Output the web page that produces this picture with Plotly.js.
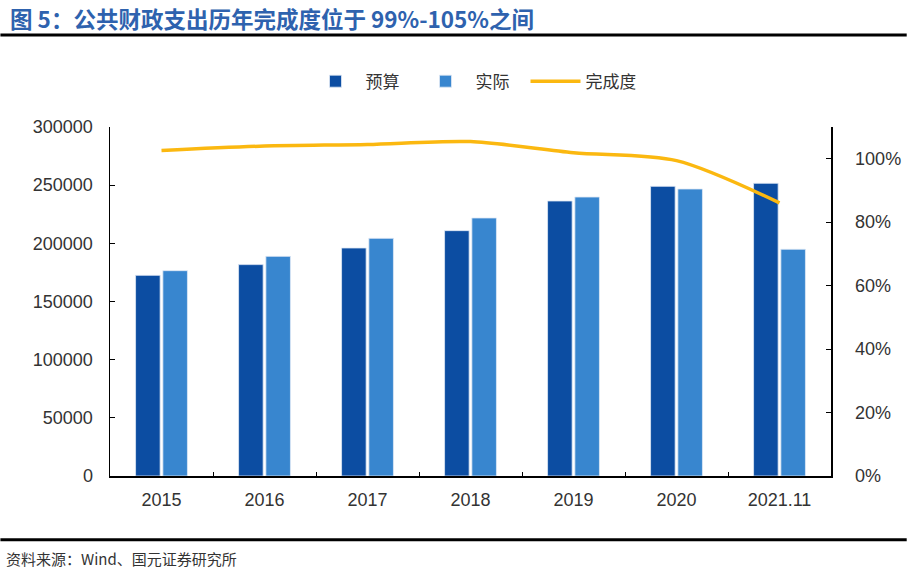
<!DOCTYPE html>
<html>
<head>
<meta charset="utf-8">
<script src="https://cdn.plot.ly/plotly-3.0.1.min.js"></script>
<style>
html,body{margin:0;padding:0;background:#fff;}
#chart{width:909px;height:573px;}
</style>
</head>
<body>
<div id="chart"></div>
<script>
const categories = ['2015', '2016', '2017', '2018', '2019', '2020', '2021.11'];
const budget = [172500, 181700, 196000, 210900, 236400, 249000, 251600];
const actual = [176500, 188800, 204300, 221800, 239800, 246700, 194900];
const completion = [1.026, 1.040, 1.045, 1.054, 1.019, 0.994, 0.861];
const leftTicks = [0, 50000, 100000, 150000, 200000, 250000, 300000];
const rightTicks = [0, 0.2, 0.4, 0.6, 0.8, 1.0];
const rightTickText = ['0%', '20%', '40%', '60%', '80%', '100%'];

const CJK = '"Noto Sans CJK SC", "Liberation Sans", sans-serif';
const NUM = '"Liberation Sans", Arial, sans-serif';

const traces = [
  {type: 'bar', name: '预算', x: categories, y: budget,
   marker: {color: '#0C4DA2', line: {color: '#dfe8f5', width: 0.8}}},
  {type: 'bar', name: '实际', x: categories, y: actual,
   marker: {color: '#3886CF', line: {color: '#dfe8f5', width: 0.8}}},
  {type: 'scatter', mode: 'lines', name: '完成度', x: categories, y: completion,
   yaxis: 'y2', line: {color: '#FBB810', width: 3.5, shape: 'spline', smoothing: 0.8}}
];

const layout = {
  width: 909, height: 573,
  margin: {l: 110, r: 78, t: 127, b: 97},
  paper_bgcolor: '#fff', plot_bgcolor: '#fff',
  barmode: 'group', bargap: 0.47, bargroupgap: 0.1,
  showlegend: true,
  legend: {orientation: 'h', x: 0.5, xanchor: 'center', y: 1.13, yanchor: 'middle',
           font: {family: CJK, size: 17, color: '#333'}, itemwidth: 50,
           entrywidth: 45, entrywidthmode: 'pixels',
           traceorder: 'normal'},
  xaxis: {type: 'category', showline: true, linecolor: '#000', linewidth: 1.5,
          ticks: 'inside', tickson: 'boundaries', ticklen: 4, tickcolor: '#000',
          ticklabelstandoff: 7,
          tickfont: {family: NUM, size: 18, color: '#333'}, showgrid: false, zeroline: false},
  yaxis: {range: [0, 300000], tickvals: leftTicks, ticktext: leftTicks.map(String),
          showline: true, linecolor: '#000', linewidth: 1.5, ticks: 'inside', ticklen: 5,
          tickcolor: '#000', showgrid: false, zeroline: false, ticklabelstandoff: 12,
          tickfont: {family: NUM, size: 18, color: '#333'}},
  yaxis2: {overlaying: 'y', side: 'right', range: [0, 1.1], tickvals: rightTicks,
           ticktext: rightTickText, showline: true, linecolor: '#000', linewidth: 1.5,
           ticks: 'inside', ticklen: 5, tickcolor: '#000', showgrid: false, zeroline: false,
           ticklabelstandoff: 19,
           tickfont: {family: NUM, size: 18, color: '#333'}},
  shapes: [
    {type: 'line', xref: 'paper', yref: 'paper', x0: -0.152, x1: 1.105, y0: 1.2636, y1: 1.2636,
     line: {color: '#000', width: 3}},
    {type: 'line', xref: 'paper', yref: 'paper', x0: -0.152, x1: 1.105, y0: -0.183, y1: -0.183,
     line: {color: '#000', width: 3}}
  ],
  annotations: [
    {xref: 'paper', yref: 'paper', x: -0.142, y: 1.312, xanchor: 'left', yanchor: 'middle',
     showarrow: false, text: '<b>图 5：公共财政支出历年完成度位于 99%-105%之间</b>',
     font: {family: CJK, size: 22.5, color: '#2E62AE'}},
    {xref: 'paper', yref: 'paper', x: -0.147, y: -0.235, xanchor: 'left', yanchor: 'middle',
     showarrow: false, text: '资料来源：Wind、国元证券研究所',
     font: {family: CJK, size: 15, color: '#333'}}
  ]
};

Plotly.newPlot('chart', traces, layout, {displayModeBar: false, staticPlot: true});
</script>
</body>
</html>
